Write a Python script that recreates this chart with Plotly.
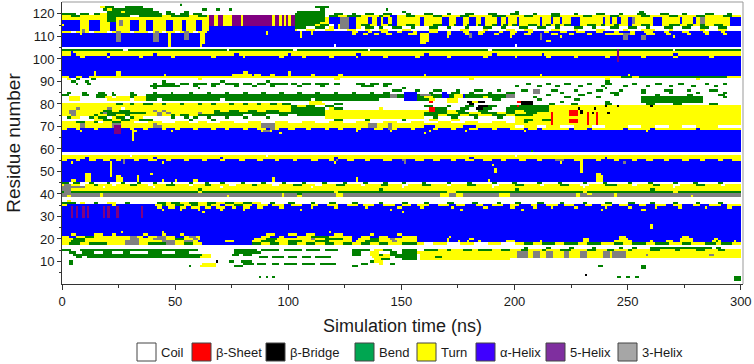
import re
import plotly.graph_objects as go

# ---------------- data ----------------
STATE_KEYS = ["C", "E", "B", "S", "T", "H", "I", "G"]
STATE_NAMES = ["Coil", "β-Sheet", "β-Bridge", "Bend", "Turn", "α-Helix", "5-Helix", "3-Helix"]
CELL_COLORS = ["#FFFFFF", "#FF0000", "#000000", "#008000", "#FFFF00", "#0000FF", "#800080", "#808080"]
LEGEND_COLORS = ["#FFFFFF", "#FF0000", "#000000", "#00A651", "#FFFF00", "#3F00FF", "#7F2F9F", "#A6A6A6"]
X_TICKS = [0, 50, 100, 150, 200, 250, 300]
Y_TICKS = [10, 20, 30, 40, 50, 60, 70, 80, 90, 100, 110, 120]
N_FRAMES = 300  # ns, one frame per ns

# Each residue: "<state><start_ns>" tokens; a state lasts until the next token's start.
RES_001_020 = [
    "C0",
    "C0 S297",
    "C0 S87 C88 S90 C91 S93 C94 S245 C247 S249 C251 S253 C255 S297",
    "C0 B231 C232",
    "C0",
    "C0",
    "C0 S256 C258",
    "C0 S56 C57 T61 C68 S76 C80 S128 C131 S237 C239 S256 C258",
    "C0 S3 C5 T62 C68 S80 C85 S86 C90 S93 C96 S98 C104 S106 C112 S114 C121 S132 C135 T140 C142 S145 C147",
    "C0 S3 C5 B68 C69 S74 C76 S79 C84 S136 T138 C142",
    "C0 T138 S141 C145 S150 C157 T158 C198",
    "C0 S6 C9 S11 T61 C66 S87 C91 S93 C98 S100 C104 S106 C110 S112 C119 T137 C145 S147 C157 T158 S165 T168 G201 T206 G208 T211 G214 T217 G222 T224 G229 T232 G239 T242 G243 T249",
    "C0 S5 T62 C66 S75 C78 S80 C84 S128 C132 T136 S140 T142 S145 C157 T158 G201 T206 G208 T211 G214 T217 G222 T224 G229 T232 G239 T242 G243 T249 G258 T259 G286 T288",
    "C0 S3 C6 S9 C14 S18 C22 S27 C30 S38 C44 S50 C56 S76 C88 S128 C132 T136 C140 S145 C148 S150 T157 G201 T206 G208 T211 G214 T217 G222 T224 G229 T232 G239 T242 G243 T249",
    "S0 C4 S8 C60 S76 C86 S88 C96 S98 C106 S108 C114 S116 C122 S128 C136 T138 S142 C146 S150 C157 S160 T166 S170 T172 S177 T181 S184 T190 S194 T198 S203 T206 S212 T214 S220 T225 S232 T236 S241 T244 S250 T252 S260 T264 S271 T273 S280 T284 S290 T293",
    "C0 S204 C206 S214 C216 S224 C226 S234 C236 S246 C248 S252 C254 S260 C287 S289 C291",
    "C0",
    "T0 S3 T8 S12 T20 G28 T34 S38 G46 T50 S54 T58 H62 S84 T88 S92 T96 S100 T104 S108 T112 S116 T120 S124 T128 S132 T136 S140 T144 S150 T157 C160 T164 C170 T176 C182 T188 C194 T200 S204 T208 S212 T218 S222 T228 S232 T238 S244 T248 S252 T258 S262 T268 S274 T278 S284 T289 S291 T296",
    "T0 S4 T10 G28 T34 G44 T50 G54 T58 H60 T72 H76 T84 S88 T94 S100 T106 S112 T118 H128 T130 S134 T140 G146 T148 H157 T170 H171 T175 H176 T179 H180 T184 H185 T196 H200 T211 H212 T230 H233 T244 H252 T260 H261 T267 H270 T273 H279 T287 S289 T290 H291 T297 H298",
    "T0 S5 T10 G30 T34 G40 T46 S50 T54 G58 T60 H61 T85 S90 T95 G110 T112 S116 T124 H128 T131 S136 T140 G145 T147 H157 T170 H171 T180 H182 T230 H233 T246 H250 T273 H279 T288 H290",
]

RES_021_040 = [
    "T0 H3 T6 S10 T14 G30 T33 H36 T38 G42 T46 H50 T54 G56 T59 H61 T88 H92 T96 H98 T104 S110 T118 H128 T132 H136 T140 H144 T150 H157 T171 H172 T246 H249 T274 H277",
    "H0 T4 H6 T14 H18 T22 H24 T36 H38 T44 H46 T52 H54 T90 H94 T100 H104 T108 H112 T120 H124 T136 H138 T148 H150",
    "H0 T26 H27 T44 H45 T118 H119",
    "H0",
    "H0 T260 H261",
    "H0 T260 H261",
    "H0",
    "H0",
    "H0",
    "H0 I4 H5 I6 H7 I9 H10 I11 H12 I18 H19 I20 H21 I24 H25 I35 H36",
    "H0 I4 H5 I6 H7 I9 H10 I11 H12 I18 H19 I20 H21 I24 H25 I35 H36",
    "H0 I4 H5 I6 H7 I9 H10 I11 H12 I18 H19 I20 H21 I24 H25 I35 H36 T62 H63 T150 H151",
    "H0 I4 H5 I6 H7 I9 H10 I11 H12 I18 H19 I20 H21 I24 H25 I35 H36 T44 H45 T52 H53 T60 H61 T70 H71 T80 H81 T105 H106 T145 H146 T176 H177 T203 H204 T238 H239 T256 H258",
    "H0 I4 H5 I6 H7 I9 H10 I11 H12 I18 H19 I20 H21 I24 H25 I35 H36 T42 H44 T47 H50 T52 H55 T57 H61 T63 H66 T68 H72 T75 H77 T80 H83 T86 H89 T96 H98 T110 H111 T120 H122 T134 H135 T148 H150 T158 H160 T172 H173 T186 H188 T198 H200 T208 H210 T216 H217 T226 H228 T240 H241 T250 H252 T262 H263 T272 H274 T284 H285 T294 H296",
    "T0 H2 T22 H24 T41 S44 T46 S50 T54 S57 T60 S64 T66 H70 T72 S76 T80 H84 T86 H91 T93 H98 T101 H106 T110 H113 T117 H122 T126 H131 T133 H138 T142 H147 T150 H154 T157 H162 T166 H171 T174 H178 T183 H186 T190 H195 T198 H202 T207 H210 T214 H219 T222 H226 T231 H234 T238 H243 T246 H250 T255 H258 T262 H267 T270 H274 T279 H282 T286 H291 T294",
    "S0 C6 T8 C10 S14 C16 T20 C24 S28 C30 S42 T46 S48 T52 S56 T60 S64 T68 S72 T76 S80 T84 C88 S92 C94 S100 C103 S110 C112 S118 C121 S128 C131 S140 C142 S150 C153 S160 C162 S170 C173 S181 C184 S192 C194 S200 C203 S210 C213 S220 C222 S230 C232 S240 C243 S250 C253 S260 C262 S270 C272 S280 C282 S290 C292",
    "C0 T2 C4",
    "C0",
    "G0 T2 G4 T17 G18 T73 G74 T97 G98 T104 G106 T121 G124 T167 G171 T174 G177 T193 G198 T227 G229 T244 G245 T278 G279",
    "G0 T17 G18 T97 G98 S104 G106 T121 G124 T167 G171 T174 G177 T193 G198 T227 G229 T232 G234 T244 G245",
]

RES_041_060 = [
    "S0 G1 S4 T60 S62 T120 S122 T170 S174 T230 S232 T270 S272",
    "G0 T4 S60 T62 S140 T142 S200 T202 S260 T262",
    "G0 T10 C18 T19 C40 T41 C70 T71 C110 T111 C150 T151 C190 T191 C230 T231 C270 T271",
    "T0 G1 T4 C8 T10 S14 T16 C22 T24 S30 T33 C38 T40 S46 T50 C56 T58 S63 T66 C74 T77 S84 T86 C93 T96 S102 T106 C112 T115 S121 T125 C132 T134 S141 T144 C150 T153 S159 T163 C170 T172 S179 T183 C190 T193 S200 T204 C211 T213 S220 T224 C229 T233 S240 T245 C252 T254 S261 T264 C270 T273 S280 T284 C291 T293",
    "S0 C3 S5 C8 S12 C14 S20 C21 S26 C28 S33 C35 S40 C42 S48 C49 S56 C58 S63 C65 S70 C72 S79 C81 S88 C90 S97 C99 S106 C108 S115 C117 S124 C126 S133 C135 S142 C144 S150 C152 S159 C161 S170 C172 S179 C181 S190 C192 S199 C201 S210 C212 S219 C221 S230 C232 S239 C241 S250 C252 S259 C261 S270 C272 S279 C281 S290 C292",
    "H0 T4 H6 T10 H13 T24 H27 T33 H34 T44 H45 T50 H51 T58 H60 T93 H94 T130 H131 T188 H189 T236 H239",
    "H0 T10 H13 T24 H27 T33 H34 T93 H94 T130 H131 T236 H239",
    "H0 T10 H13 T21 H22 T24 H26 T33 H34 T236 H239",
    "H0 T10 H13 T21 H22 T39 H40 T236 H238",
    "H0 T21 H22 T191 H192 T229 H230",
    "H0 T21 H22 T191 H192 T229 H230",
    "H0 T21 H22 T229 H230",
    "H0 T21 H22 T190 H191 T229 H230",
    "H0 T4 H5 T21 H22 G27 H28 T44 H45 T120 H121 G151 H152 T220 H221 T229 H230 G248 H249",
    "T0 H2 T6 H8 T12 H15 T18 H21 T24 H26 G27 H28 T32 H34 T38 H42 T46 H48 T54 H56 T62 H64 T70 H72 T78 H81 T86 H89 T94 H96 T102 H104 T110 H113 T118 H120 G121 H122 T126 H129 T134 H136 T142 H146 G150 H152 T156 H160 T164 H167 T172 H174 T178 H182 T186 H190 T194 H196 T202 H205 T210 H212 G218 H222 T226 H230 T236 H238 T244 H246 T252 H254 T258 H261 T266 H268 T274 H277 T282 H284 T290 H292 T296",
    "T0 H10 T12 H40 T42 H70 T71 H120 T122 H180 T182 H240 T241",
    "T0 C30 T31 C90 T91 C200 T201",
    "C0",
    "H0 S207 H208",
    "H0",
]

RES_061_080 = [
    "H0",
    "H0",
    "H0",
    "H0 T31 H32",
    "H0 T31 H32",
    "H0 T31 H32",
    "H0 I23 H26 T31 H32 T96 H97 T160 H161",
    "H0 T8 H9 I23 H26 T31 H33 T48 H49 T88 G89 T92 H93 T130 H131 T145 H146 T162 H163 T178 H179 T204 H205 T258 H259",
    "T0 H2 T6 H8 T14 H16 I23 H26 T30 H32 T36 H38 T44 H46 T50 H52 T58 H60 T66 H68 T72 H74 T80 H82 T86 H90 G92 T94 H96 T100 H103 T108 H110 T116 H118 T122 H124 T130 H132 T138 H142 G144 T146 H148 T154 H156 T164 H166 T172 H174 T180 H184 T190 H192 T198 H204 T206 H210 T212 H224 T226 H232 T234 H248 T250 H260 T262 H280 T282",
    "T0 G8 T10 G22 I23 T26 G40 T44 G88 T94 G135 T139 G144 T146 H160 T165 H177 T183 C200 T204 C210 T214 C220 T226 C234 T240 C250 T256 C262 T268 C274 T280 C290",
    "T0 G8 T10 G22 T26 G40 T42 G88 T94 G135 T139 G144 T146 E216 T217 E232 T233 E236 T237",
    "T0 S6 T10 S14 C16 T18 S22 T26 C32 T38 C44 T50 C56 T60 C64 T70 C76 T82 C88 T94 C100 T106 C112 T118 C124 T130 C136 T142 C148 T154 C160 T166 C172 T178 C184 T190 C196 T200 S204 T206 E216 T217 E224 T228 E232 T233 E236 T237",
    "C0 T14 S18 T22 S26 T30 S34 C40 S56 C58 S66 C68 S120 C124 S134 C136 S150 C152 T162 C166 T172 C176 T200 S204 T208 S212 E216 T217 E224 T228 E232 T233 E236 T237",
    "C0 S2 T4 C8 S12 T14 S16 C20 T22 S24 C28 S30 T32 C36 S48 C50 S54 C56 S58 C60 S64 C66 S72 C74 S80 C82 S90 C92 T116 C160 S164 C166 S172 C175 S182 C184 S192 C195 T200 E216 T217 E232 T233 E236 T237",
    "T0 G4 T6 S14 T16 S20 T24 S28 T30 G42 T44 S48 T50 S52 T56 S60 C80 S84 C90 S96 C100 S104 T116 S160 T166 S170 T176 S180 T184 S190 T196 S200 T208 E216 T217 E224 T228 E232 T233 E236 T237",
    "T0 G3 T6 S17 G18 S20 T37 G42 T44 G46 T48 G60 T62 S67 S101 T116 S160 T170 S175 T180 S185 T192 S196 T200 S205 T210 E216 T217 E224 T228 B229 T230 E232 T233 B234 T235 E236 T237 B241 T242",
    "T0 G3 T6 S18 T22 S25 T30 G40 T42 G44 T46 S67 T70 S74 T78 S82 T86 S90 T96 S101 T116 E162 S165 T170 S174 C178 S184 C188 S196 T200 S204 T215 E224 T228 B229 T230",
    "T0 G6 T8 G20 T22 C26 T28 S101 C116 T118 S120 C124 T140 C142 E162 S165 C170 S176 C180 B183 S186 C190 S196 T215 B228 T229 B235 T236",
    "T0 S101 T104 S108 C112 S116 C120 S160 C164 S170 C172 S178 C182 B184 S188 C192 S198 E201 S202 T215 B240 T241 B245 T246 B260 T261",
    "T0 S24 T27 S30 T32 S36 T40 S44 T46 S52 T54 S60 T62 S66 T68 S74 T76 S80 T82 S86 T88 S92 T95 S97 C101 T109 C116 S120 C124 B180 C182 B203 C208 S215 C218 S225 C228 S240 C243 S258 C262 S270 C274 S286 C290",
]

RES_081_100 = [
    "C0 T109 C115 E162 C164 T170 C175 B179 T181 B184 C187 E201 B203 C208 S220 C222 S240 C242 S256 C283",
    "C0 T3 C8 T20 C30 T32 S37 C42 S44 C70 S72 C110 S112 C140 H151 S157 T162 C165 T170 C175 S190 C194 S210 C212 S226 C229 S256 C283",
    "C0 T3 C8 S15 T19 C22 T24 S30 T32 S37 G145 S148 H151 S157 T160 S164 H168 S171 T173 H177 S178 T186 S188 G196 C200 S208 C210 S222 C225 S236 C238 S256 C283 S292 C294",
    "S0 C3 S9 C12 S15 C20 S22 C24 S30 C33 S37 G145 S148 H151 S157 G158 S163 H168 S171 T173 H177 S178 G196 C200 S214 C216 S228 C231 S244 C246 S262 C264 S276 C279 S290 C293",
    "C0 S2 C4 S9 C11 S16 C19 S22 C23 S30 C32 S40 C42 S48 C49 S56 C58 S64 C66 S72 C74 S80 C82 S88 C90 S96 C98 S104 C106 S112 C114 S120 C122 S128 C130 S136 C138 S142 C145 H151 C157 S162 C164 H168 C170 S172 C176 S180 C182 S188 C190 S196 C200 G208 C211 S220 C222 S232 C234 S242 C246 S256 C258 S268 C270 S280 C282 S292 C294",
    "C0 S146 C150 S156 C158 S164 C168 S174 C176 S182 C186 S192 C194 S203 C206 G208 C211 S216 C219 S226 C228 S236 C239 S246 C248 S256 C258 S266 C270 S276 C278 S286 C290",
    "C0 S40 C42 S60 C61 S150 C152 S240 C241",
    "C0 S39 C52 S58 C60 S66 C68 S76 C78 S84 C86 S92 C94 S104 C106 S114 C116 S132 C138 S142 C144 S200 C202 S210 C212 S218 C220 S228 C230 S238 C240 S248 C250 S258 C260 S268 C270 S278 C280 S288 C290",
    "C0 S6 C7 S11 C13 S40 C42 S44 C50 S52 C56 S58 C64 S66 C70 S72 C78 S80 C84 S86 C90 S92 C100 S101 C104 S106 C110 S112 C118 S120 C123 S130 C134 S136 C140 S142 C146 S205 C207 S214 C216 S222 C225 S232 C234 S240 C243 S252 C254 S262 C265 S272 C275 S284 C286 S292 C294",
    "C0 S4 C6 S10 C12 S44 C46 S70 C72 S90 C92 S240 C242",
    "C0 T2 C4 S6 C8 S13 C15 T60 C62 T120 C123 T180 C182 T240 C242 T280 C282",
    "T0 H3 T6 H9 T12 S247 T252 S255 T294",
    "H0 T14 H15 T24 H26 T45 H46 T75 H84 T85 H88 T92 H94 T100 H101 T110 H112 T122 H124 T160 H161 T211 H212 T250 H251",
    "H0 T14 H15 T24 H26 T80 H82 T100 H101",
    "H0",
    "H0",
    "H0",
    "H0",
    "H0 I245 H246",
    "H0 I245 H246",
]

RES_101_124 = [
    "H0 T8 H10 T20 H21 T34 H36 T48 H50 T66 H68 T80 H81 T96 H98 T106 H108 T118 H120 T130 H131 T142 H144 T156 H158 T170 H172 T186 H188 T200 H201 T214 H216 T226 H228 T240 H242 I245 H246 T256 H258 T270 H272 T286 H288",
    "T0 H4 T6 H20 T21 H40 T42 H76 T78 H100 T101 H130 T132 H160 T162 H190 T192 H212 T213 I245 T246 H270 T272",
    "T0 H4 T5 I245 T246",
    "S0 C27 S29 C73 S74 C102 S104 C135 S136 C188 S190 I245 S246 C270 S271",
    "C0",
    "H0 T47 H48 T61 H62 C120 H121 C200 H201",
    "H0 T47 H48 T61 H63 T158 H161",
    "H0 G24 H26 G40 H43 T47 H48 T61 H63 T158 H162 T214 H216",
    "H0 G24 H26 G40 H43 T47 H48 G54 H56 T61 H63 T158 H162 G211 H212 G248 H250 G256 H258",
    "H0 G24 H26 G40 H43 T47 H48 G54 H56 T61 H63 T105 H106 T158 H162 T170 H171 G180 H181 T198 H199 G211 H212 T220 H221 G248 H250 G256 H258 T270 H271",
    "H0 T8 H9 G24 H26 G40 H43 T47 H48 G54 H56 T61 H63 T90 H91 T105 H106 T110 H111 T128 H130 T133 H135 T138 H140 T143 H146 T153 H157 T158 H162 T170 H172 T178 G180 H181 T184 H186 T191 H193 T198 H200 T204 H207 G211 H212 T216 H219 T224 H226 T232 H234 T240 G248 T251 H253 T258 H262 T267 H269 T276 H278 T284 H286 T292 H294",
    "T0 C4 T6 G9 T10 C12 T14 C20 T22 G24 T26 C30 T32 C38 T40 G41 T43 C44 T46 C50 T52 G54 T56 C58 T60 H64 T90 H91 T105 H106 T110 H111 T128 H131 T135 H137 T141 H144 T148 H150 T155 H157 T162 H166 T170 H172 T177 H180 T184 H187 T193 H195 T198 H201 T206 H208 T213 H215 T220 H223 T227 H231 T236 H239 T244 H246 T251 H253 T257 H261 T266 H268 T274 H277 T283 H286 T291 H293",
    "H0 T8 G9 T10 H12 T17 H21 T24 H30 T34 H37 T40 H46 T49 H53 T55 H59 T62 H65 T103 C104 T108 C112 T116 C120 T126 C130 T134 C136 T140 C144 T150 C154 T162 C166 T176 C180 T186 C188 T196 C200 T204 C208 T216 C220 T226 C228 T236 C240 T248 C250 T256 C262 T268 C270 T282 C284 T290 C294",
    "H0 T8 H12 T17 H21 T24 H30 T34 H37 T40 H46 T49 H53 T55 H59 T62 H65 S103 C108 S112 C116 T118 H120 T122 G123 H127 T130 C132 S134 C138 S140 C142 S146 C150 S154 C156 S162 C166 S170 C172 S178 C180 S186 C190 S194 C196 S202 C206 S210 C214 S218 C220 S226 C230 S234 C236 S242 C246 S250 C254 S258 C260 S266 C270 S274 C278 S282 C286 S290 C294",
    "T0 H1 T8 H12 T17 H21 T24 G25 T27 H30 T34 H37 T40 H46 T49 H53 T55 H59 T62 I65 T67 I69 T71 I75 T79 I80 T93 I94 T96 I97 T98 I99 T100 I101 S103 T112 S114 C118 H120 T122 G123 H127 T130 S132 T136 H139 T141 S144 H146 T148 S152 T156 H158 T160 S164 H168 T171 S173 H174 T177 S179 H180 T183 S184 H185 T187 S190 H192 T194 S195 T197 S199 H201 T202 S206 T210 H211 T212 S214 T216 S218 T220 S222 H225 T229 S232 T236 S238 T240 S244 T246 H250 T252 S256 T260 H261 T265 S268 T273 S276 T279 S282 T284 S288 T292 H295",
    "H0 T8 H12 T17 H21 T24 G25 T27 H30 T34 H37 T40 H46 T49 H53 T55 H59 T62 I65 T67 I69 T71 I75 T79 I80 T93 I94 T96 I97 T98 I99 T100 I101 S103 T114 H118 G123 H127 T130 H135 T137 H139 T141 H142 T144 H146 T148 H158 T160 H168 T171 H174 T177 H180 T183 H185 T187 H192 T194 H196 T197 H201 T202 H211 T212 H216 T217 H220 T221 H225 T229 H239 T240 H242 T243 H245 T247 H250 G252 T253 H261 T265 H273 T274 H279 T280 G282 T284 H295",
    "H0 T8 H12 T17 S20 T24 G25 T27 H30 T34 H37 T40 H46 T49 H53 T55 H59 T62 I65 T67 I69 T71 I75 T79 I80 T93 I94 T96 I97 T98 I99 T100 I101 S103 T116 H118 G123 H127 T130 H135 T137 H139 T141 H142 T144 H146 T148 H158 T160 H168 T171 H174 T177 H180 T183 H185 T187 H192 T194 H196 T197 H201 T202 H211 T212 H216 T217 H220 T221 H225 T229 H239 T240 H242 T243 H245 T247 H250 G252 T253 H261 T265 H273 T274 H279 T280 G282 T284 H295",
    "T0 S20 T24 I65 T67 I69 T71 I75 T79 I80 T93 I94 T96 I97 T98 I99 T100 I101 S103 T116 H118 G123 H127 T130 H135 T137 H139 T141 H142 T144 H146 T148 H158 T160 H168 T171 H174 T177 H180 T183 H185 T187 H192 T194 H196 T197 H201 T202 H211 T212 H216 T217 H220 T221 H225 T229 H239 T240 H242 T243 H245 T247 H250 G252 T253 H261 T265 H273 T274 H279 T280 G282 T284 H295",
    "T0 S4 T8 S20 C30 S34 T44 S48 T56 S60 T64 I65 T67 I69 T71 I75 T79 I80 T93 I94 T96 I97 T98 I99 T100 I101 S103 C116 S118 T122 S126 T132 S140 T142 H145 T148 S152 T156 S164 T168 S176 T180 S190 T196 S204 T208 S216 T220 S230 T234 S242 T246 S256 T260 S268 T272 S280 T284 S292 T296",
    "S0 C6 S8 C12 S14 T17 S20 C44 S46 C50 S52 C56 S58 C62 S103 C116 S120 C124 S128 C130 S134 C138 S142 C146 S152 C154 S160 C164 S170 C172 S178 C182 S188 C192 S198 C202 S208 C210 S216 C220 S226 C228 S236 C240 S246 C248 S254 C258 S264 C268 S274 C276 S284 C288 S294 C296",
    "C0 S20 T26 S28 C43 S46 C48 S54 C56 S104 C116 S150 C152 S200 C202 S255 C257",
    "C0 S18 T20 S22 C40 S62 C64 S68 C70 S74 C75 S114 C116 S143 C144",
    "C0 T17 S19 C23 S28 C36 S112 C118",
    "C0 S52 C53",
]

# ---------------- build the grid ----------------
KEY_TO_CODE = {k: i for i, k in enumerate(STATE_KEYS)}


def expand(spec):
    toks = [(int(m.group(2)), KEY_TO_CODE[m.group(1)]) for m in re.finditer(r"([A-Z])(\d+)", spec)]
    toks.sort(key=lambda p: p[0])
    row = [0] * N_FRAMES
    for i, (start, code) in enumerate(toks):
        end = toks[i + 1][0] if i + 1 < len(toks) else N_FRAMES
        for t in range(start, min(end, N_FRAMES)):
            row[t] = code
    return row


all_rows = RES_001_020 + RES_021_040 + RES_041_060 + RES_061_080 + RES_081_100 + RES_101_124
residues = list(range(1, len(all_rows) + 1))
z = [expand(s) for s in all_rows]
times = [t + 0.5 for t in range(N_FRAMES)]

n = len(CELL_COLORS)
colorscale = []
for i, c in enumerate(CELL_COLORS):
    colorscale.append([i / n, c])
    colorscale.append([(i + 1) / n, c])

fig = go.Figure(go.Heatmap(
    z=z, x=times, y=residues, zmin=-0.5, zmax=n - 0.5,
    colorscale=colorscale, showscale=False, hoverinfo="skip",
))

# ---------------- layout ----------------
W, H = 754, 364
L, R, T, B = 62, 11, 2, 80
pw, ph = W - L - R, H - T - B
FONT = "Arial, Liberation Sans, sans-serif"


def px_x(px):
    return (px - L) / pw


def px_y(py):
    return (H - B - py) / ph


fig.update_layout(
    width=W, height=H,
    margin=dict(l=L, r=R, t=T, b=B),
    paper_bgcolor="white", plot_bgcolor="white",
    font=dict(family=FONT, color="#1a1a1a"),
    showlegend=False,
)
fig.update_xaxes(
    range=[0, 301], tickvals=X_TICKS, ticks="outside", ticklen=5, tickcolor="#333",
    showline=True, linecolor="#333", linewidth=1, showgrid=False, zeroline=False,
    tickfont=dict(size=13, family=FONT),
    minor=dict(tickvals=[25, 75, 125, 175, 225, 275], ticks="outside", ticklen=3, tickcolor="#333"),
    title=dict(text="Simulation time (ns)", font=dict(size=18, family=FONT), standoff=11),
)
fig.update_yaxes(
    range=[0, 125.3], tickvals=Y_TICKS, ticks="outside", ticklen=4, tickcolor="#333",
    showline=True, linecolor="#333", linewidth=1, showgrid=False, zeroline=False,
    tickfont=dict(size=13, family=FONT),
    minor=dict(tickvals=[5 + 10 * k for k in range(12)], ticks="outside", ticklen=2, tickcolor="#333"),
    title=dict(text="Residue number", font=dict(size=19, family=FONT), standoff=7),
)

# frame top/right in light grey
fig.add_shape(type="line", xref="paper", yref="paper", x0=0, x1=1, y0=1, y1=1, line=dict(color="#999", width=1))
fig.add_shape(type="line", xref="paper", yref="paper", x0=1, x1=1, y0=0, y1=1, line=dict(color="#999", width=1))

# legend drawn under the plot
box_left = [137, 192, 266, 355, 417, 476, 546, 618]
box_w, box_top, box_bot = 19, 343, 361
for name, col, bx in zip(STATE_NAMES, LEGEND_COLORS, box_left):
    fig.add_shape(type="rect", xref="paper", yref="paper",
                  x0=px_x(bx), x1=px_x(bx + box_w), y0=px_y(box_bot), y1=px_y(box_top),
                  fillcolor=col, line=dict(color="#444", width=1))
    fig.add_annotation(xref="paper", yref="paper", x=px_x(bx + box_w + 3), y=px_y((box_top + box_bot) / 2),
                       text=name, showarrow=False, xanchor="left", yanchor="middle",
                       font=dict(size=13, family=FONT, color="#1a1a1a"))

fig.write_html("out.html", config={"displayModeBar": False},
               post_script="document.body.style.margin='0';")
